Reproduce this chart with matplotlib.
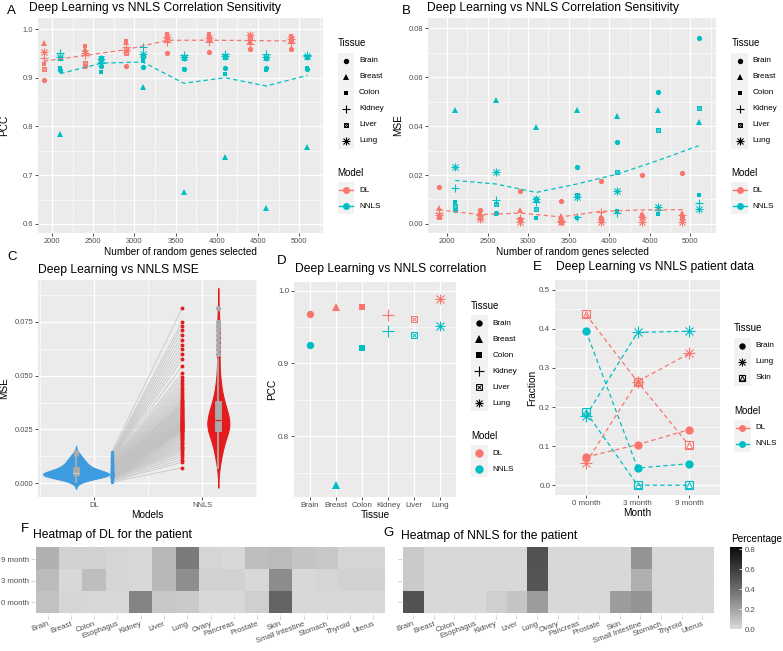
import numpy as np
import matplotlib
matplotlib.use("Agg")
import matplotlib.pyplot as plt
from matplotlib import mlab
from matplotlib.colors import ListedColormap, Normalize
from matplotlib.cm import ScalarMappable
from matplotlib.patches import Rectangle
from matplotlib.collections import LineCollection

plt.rcParams['font.family'] = ['Liberation Sans', 'DejaVu Sans']

# ====================== data ======================
genes = [2000, 2500, 3000, 3500, 4000, 4500, 5000]
tissues = ["Brain", "Breast", "Colon", "Kidney", "Liver", "Lung"]
models = ["DL", "NNLS"]

# Panel A: PCC (rows = tissues, columns = genes)
pcc_dl = [
    [0.895, 0.925, 0.925, 0.951, 0.952, 0.958, 0.960],
    [0.971, 0.958, 0.974, 0.986, 0.986, 0.976, 0.975],
    [0.928, 0.965, 0.976, 0.989, 0.989, 0.986, 0.986],
    [0.940, 0.947, 0.964, 0.974, 0.973, 0.969, 0.971],
    [0.918, 0.930, 0.950, 0.977, 0.980, 0.981, 0.982],
    [0.952, 0.950, 0.957, 0.984, 0.982, 0.988, 0.979],
]
pcc_nnls = [
    [0.915, 0.925, 0.922, 0.918, 0.921, 0.919, 0.918],
    [0.784, 0.935, 0.881, 0.665, 0.737, 0.633, 0.758],
    [0.919, 0.911, 0.935, 0.918, 0.907, 0.916, 0.919],
    [0.950, 0.930, 0.964, 0.947, 0.948, 0.949, 0.947],
    [0.940, 0.940, 0.945, 0.941, 0.943, 0.940, 0.943],
    [0.943, 0.938, 0.948, 0.943, 0.945, 0.942, 0.945],
]
# Panel B: MSE (rows = tissues, columns = genes)
mse_dl = [
    [0.0152, 0.0058, 0.0133, 0.0094, 0.0177, 0.0200, 0.0207],
    [0.0064, 0.0045, 0.0058, 0.0034, 0.0030, 0.0040, 0.0044],
    [0.0023, 0.0040, 0.0022, 0.0015, 0.0025, 0.0035, 0.0030],
    [0.0045, 0.0035, 0.0025, 0.0012, 0.0050, 0.0030, 0.0035],
    [0.0030, 0.0030, 0.0018, 0.0010, 0.0020, 0.0028, 0.0025],
    [0.0035, 0.0022, 0.0010, 0.0008, 0.0008, 0.0010, 0.0010],
]
mse_nnls = [
    [0.0057, 0.0046, 0.0101, 0.0231, 0.0333, 0.0540, 0.0761],
    [0.0465, 0.0506, 0.0397, 0.0465, 0.0442, 0.0465, 0.0418],
    [0.0088, 0.0040, 0.0023, 0.0026, 0.0054, 0.0041, 0.0118],
    [0.0148, 0.0098, 0.0091, 0.0028, 0.0044, 0.0057, 0.0084],
    [0.0075, 0.0080, 0.0061, 0.0118, 0.0214, 0.0386, 0.0476],
    [0.0234, 0.0211, 0.0100, 0.0112, 0.0136, 0.0068, 0.0060],
]

# Panel C: paired MSE per sample
c_dl = [
    0.0005, 0.0009, 0.0012, 0.0016, 0.0018, 0.0021, 0.0023, 0.0024, 0.0026, 0.0027,
    0.0028, 0.0029, 0.0030, 0.0030, 0.0031, 0.0032, 0.0032, 0.0033, 0.0033, 0.0034,
    0.0034, 0.0035, 0.0035, 0.0036, 0.0036, 0.0037, 0.0037, 0.0038, 0.0038, 0.0039,
    0.0039, 0.0040, 0.0040, 0.0040, 0.0041, 0.0041, 0.0042, 0.0042, 0.0043, 0.0043,
    0.0044, 0.0044, 0.0045, 0.0045, 0.0046, 0.0047, 0.0047, 0.0048, 0.0049, 0.0050,
    0.0051, 0.0052, 0.0052, 0.0053, 0.0054, 0.0055, 0.0056, 0.0057, 0.0058, 0.0060,
    0.0061, 0.0062, 0.0064, 0.0065, 0.0066, 0.0068, 0.0069, 0.0071, 0.0072, 0.0074,
    0.0076, 0.0078, 0.0080, 0.0082, 0.0084, 0.0086, 0.0088, 0.0090, 0.0092, 0.0095,
    0.0097, 0.0100, 0.0102, 0.0105, 0.0108, 0.0111, 0.0114, 0.0117, 0.0121, 0.0125,
    0.0130, 0.0136, 0.0143,
]
c_nnls = [
    0.0072, 0.0098, 0.0110, 0.0122, 0.0133, 0.0142, 0.0150, 0.0157, 0.0163, 0.0169,
    0.0175, 0.0181, 0.0187, 0.0193, 0.0199, 0.0205, 0.0211, 0.0216, 0.0221, 0.0226,
    0.0231, 0.0235, 0.0239, 0.0242, 0.0245, 0.0247, 0.0249, 0.0251, 0.0253, 0.0255,
    0.0257, 0.0259, 0.0261, 0.0263, 0.0265, 0.0267, 0.0269, 0.0271, 0.0274, 0.0276,
    0.0278, 0.0281, 0.0283, 0.0286, 0.0289, 0.0292, 0.0295, 0.0298, 0.0301, 0.0304,
    0.0308, 0.0311, 0.0314, 0.0318, 0.0321, 0.0325, 0.0328, 0.0332, 0.0336, 0.0339,
    0.0343, 0.0347, 0.0351, 0.0355, 0.0359, 0.0363, 0.0367, 0.0371, 0.0376, 0.0382,
    0.0389, 0.0396, 0.0404, 0.0413, 0.0422, 0.0432, 0.0443, 0.0455, 0.0467, 0.0480,
    0.0495, 0.0512, 0.0545, 0.0578, 0.0601, 0.0623, 0.0645, 0.0667, 0.0689, 0.0711,
    0.0733, 0.0752, 0.0815,
]

# Panel D: PCC per tissue
d_dl = [0.968, 0.978, 0.978, 0.967, 0.961, 0.988]
d_nnls = [0.926, 0.733, 0.921, 0.945, 0.939, 0.952]

# Panel E: patient fractions
months = ["0 month", "3 month", "9 month"]
e_tissues = ["Brain", "Lung", "Skin"]
e_dl = [[0.072, 0.104, 0.142], [0.057, 0.265, 0.337], [0.437, 0.265, 0.102]]
e_nnls = [[0.395, 0.044, 0.055], [0.177, 0.391, 0.394], [0.188, 0.000, 0.000]]

# Panels F/G: heatmaps
hm_tissues = ["Brain", "Breast", "Colon", "Esophagus", "Kidney", "Liver", "Lung", "Ovary",
              "Pancreas", "Prostate", "Skin", "Small Intestine", "Stomach", "Thyroid", "Uterus"]
hm_rows = ["0 month", "3 month", "9 month"]
f_0m = [0.09, 0.02, 0.015, 0.01, 0.31, 0.07, 0.06, 0.01, 0.01, 0.04, 0.43, 0.015, 0.01, 0.01, 0.01]
f_3m = [0.11, 0.01, 0.10, 0.02, 0.01, 0.12, 0.27, 0.03, 0.03, 0.01, 0.28, 0.01, 0.02, 0.03, 0.035]
f_9m = [0.15, 0.03, 0.03, 0.02, 0.01, 0.12, 0.34, 0.02, 0.01, 0.10, 0.11, 0.08, 0.07, 0.02, 0.02]
g_0m = [0.50, 0.01, 0.01, 0.01, 0.04, 0.08, 0.22, 0.01, 0.01, 0.01, 0.22, 0.25, 0.01, 0.01, 0.01]
g_3m = [0.06, 0.01, 0.01, 0.01, 0.01, 0.01, 0.49, 0.01, 0.01, 0.01, 0.01, 0.15, 0.01, 0.01, 0.01]
g_9m = [0.06, 0.01, 0.01, 0.01, 0.01, 0.01, 0.50, 0.01, 0.01, 0.01, 0.01, 0.25, 0.01, 0.01, 0.01]

# ====================== style ======================
DL_COL = '#F8766D'
NN_COL = '#00BFC4'
BLUE = '#3D9BE0'
RED = '#E41A1C'
W, H = 783, 651
fig = plt.figure(figsize=(W / 100, H / 100), dpi=100)


def ax_px(l, t, r, b, **kw):
    return fig.add_axes([l / W, 1 - b / H, (r - l) / W, (b - t) / H], **kw)


def gray_style(ax, xmaj, ymaj, xmin=None, ymin=None, fs=5.4):
    ax.set_facecolor('#EBEBEB')
    for s in ax.spines.values():
        s.set_visible(False)
    ax.set_xticks(xmaj)
    ax.set_yticks(ymaj)
    if xmin is not None:
        ax.set_xticks(xmin, minor=True)
    if ymin is not None:
        ax.set_yticks(ymin, minor=True)
    ax.grid(True, which='major', color='white', lw=0.9)
    ax.grid(True, which='minor', color='white', lw=0.45)
    ax.set_axisbelow(True)
    ax.tick_params(which='major', length=2.2, width=0.6, color='#333333',
                   labelsize=fs, labelcolor='#4D4D4D', pad=1.2)
    ax.tick_params(which='minor', length=0)


def shape(ax, x, y, t, color, s, z=3, clip=True):
    kw = dict(ls='none', zorder=z, clip_on=clip)
    if t == 'Brain':
        ax.plot(x, y, 'o', ms=s, mfc=color, mec=color, mew=0, **kw)
    elif t == 'Breast':
        ax.plot(x, y, '^', ms=s * 1.15, mfc=color, mec=color, mew=0, **kw)
    elif t == 'Colon':
        ax.plot(x, y, 's', ms=s * 0.9, mfc=color, mec=color, mew=0, **kw)
    elif t == 'Kidney':
        ax.plot(x, y, '+', ms=s * 1.5, mec=color, mew=0.8, **kw)
    elif t == 'Liver':
        ax.plot(x, y, 's', ms=s * 0.9, mfc='none', mec=color, mew=0.7, **kw)
        ax.plot(x, y, 'x', ms=s * 0.65, mec=color, mew=0.7, **kw)
    elif t == 'Lung':
        ax.plot(x, y, '+', ms=s * 1.4, mec=color, mew=0.8, **kw)
        ax.plot(x, y, 'x', ms=s * 1.0, mec=color, mew=0.8, **kw)
    elif t == 'Skin':
        ax.plot(x, y, 's', ms=s * 0.95, mfc='none', mec=color, mew=0.8, **kw)
        ax.plot(x, y, '^', ms=s * 0.75, mfc='none', mec=color, mew=0.7, **kw)


def fmt1(v):
    return [f"{x:.1f}" for x in v]


# ---------------- Panel A ----------------
axA = ax_px(38, 18, 323, 233)
gray_style(axA, genes, [0.6, 0.7, 0.8, 0.9, 1.0],
           [g + 250 for g in genes], [0.65, 0.75, 0.85, 0.95])
axA.set_yticklabels(fmt1([0.6, 0.7, 0.8, 0.9, 1.0]))
axA.set_xlim(1830, 5290)
axA.set_ylim(0.5815, 1.0226)
for vals, col, off in [(pcc_dl, DL_COL, -100), (pcc_nnls, NN_COL, 100)]:
    xs = np.array(genes) + off
    for ti, t in enumerate(tissues):
        shape(axA, xs, vals[ti], t, col, 3.8)
    axA.plot(xs, np.mean(vals, axis=0), color=col, lw=0.9, ls=(0, (3.5, 2.5)), zorder=4)

# ---------------- Panel B ----------------
axB = ax_px(428, 18, 716, 233)
gray_style(axB, genes, [0.0, 0.02, 0.04, 0.06, 0.08],
           [g + 250 for g in genes] + [genes[0] - 250], [0.01, 0.03, 0.05, 0.07])
axB.set_yticklabels([f"{v:.2f}" for v in [0.0, 0.02, 0.04, 0.06, 0.08]])
axB.set_xlim(1765, 5315)
axB.set_ylim(-0.0037, 0.0842)
for vals, col, off in [(mse_dl, DL_COL, -100), (mse_nnls, NN_COL, 100)]:
    xs = np.array(genes) + off
    for ti, t in enumerate(tissues):
        shape(axB, xs, vals[ti], t, col, 3.8)
    axB.plot(xs, np.mean(vals, axis=0), color=col, lw=0.9, ls=(0, (3.5, 2.5)), zorder=4)

# ---------------- Panel C ----------------
axC = ax_px(38, 280, 257, 497)
gray_style(axC, [1, 2], [0.0, 0.025, 0.05, 0.075], [0.5, 1.5, 2.5],
           [0.0125, 0.0375, 0.0625, 0.0875])
axC.set_xticklabels(models)
axC.set_yticklabels([f"{v:.3f}" for v in [0.0, 0.025, 0.05, 0.075]])
axC.set_xlim(0.483, 2.505)
axC.set_ylim(-0.0064, 0.0945)


def violin(ax, data, pos, color, bwf, maxhalf, cut=2.0):
    data = np.asarray(data)
    kde = mlab.GaussianKDE(data, bwf)
    bw = float(np.sqrt(np.atleast_2d(kde.covariance)[0, 0]))
    grid = np.linspace(data.min() - cut * bw, data.max() + cut * bw, 400)
    dens = kde.evaluate(grid)
    half = dens / dens.max() * maxhalf
    ax.fill_betweenx(grid, pos - half, pos + half, facecolor=color, edgecolor=color,
                     lw=0.7, zorder=2)


def box(ax, data, pos, mcol):
    ax.boxplot([data], positions=[pos], widths=0.055, patch_artist=True, whis=1.5,
               boxprops=dict(facecolor='#ABABAB', edgecolor='#ABABAB', lw=0.6),
               medianprops=dict(color=mcol, lw=0.9),
               whiskerprops=dict(color='#ABABAB', lw=1.3),
               capprops=dict(lw=0),
               flierprops=dict(marker='o', ms=2.8, mfc='#ABABAB', mec='#ABABAB'),
               manage_ticks=False, zorder=3)


violin(axC, c_dl, 0.834, BLUE, 0.5, 0.305)
violin(axC, c_nnls, 2.148, RED, 0.3, 0.102)
box(axC, c_dl, 0.834, '#C9C9C9')
box(axC, c_nnls, 2.148, RED)
segs = [[(1.163, a), (1.815, b)] for a, b in zip(c_dl, c_nnls)]
axC.add_collection(LineCollection(segs, colors='#C2C2C2', lw=0.5, alpha=1.0, zorder=2))
axC.plot(np.full(len(c_dl), 1.163), c_dl, 'o', ms=2.4, color=BLUE, mew=0, zorder=3)
axC.plot(np.full(len(c_nnls), 1.815), c_nnls, 'o', ms=2.8, color=RED, mew=0, zorder=3)

# ---------------- Panel D ----------------
axD = ax_px(294, 282, 456, 497)
gray_style(axD, range(1, 7), [0.8, 0.9, 1.0], None, [0.75, 0.85, 0.95], fs=5.8)
axD.set_xticklabels(tissues)
axD.set_yticklabels(fmt1([0.8, 0.9, 1.0]))
axD.set_xlim(0.4, 6.6)
axD.set_ylim(0.7165, 1.012)
for i, t in enumerate(tissues):
    shape(axD, i + 1, d_dl[i], t, DL_COL, 5.3)
    shape(axD, i + 1, d_nnls[i], t, NN_COL, 5.3)

# ---------------- Panel E ----------------
axE = ax_px(555, 280, 720, 495)
gray_style(axE, [1, 2, 3], [0, 0.1, 0.2, 0.3, 0.4, 0.5], None,
           [0.05, 0.15, 0.25, 0.35, 0.45], fs=5.8)
axE.set_xticklabels(months)
axE.set_yticklabels(fmt1([0, 0.1, 0.2, 0.3, 0.4, 0.5]))
axE.set_xlim(0.4, 3.6)
axE.set_ylim(-0.025, 0.525)
xm = np.arange(1, len(months) + 1)
for vals, col in [(e_dl, DL_COL), (e_nnls, NN_COL)]:
    for ti, t in enumerate(e_tissues):
        axE.plot(xm, vals[ti], color=col, lw=0.9, ls=(0, (3.5, 2.5)), zorder=2)
for vals, col in [(e_dl, DL_COL), (e_nnls, NN_COL)]:
    for ti, t in enumerate(e_tissues):
        shape(axE, xm, vals[ti], t, col, 6.0)

# ---------------- Panels F / G ----------------
def lstar_gray(L):
    fy = (L + 16) / 116
    Y = np.where(L > 8, fy ** 3, L / 903.3)
    return np.where(Y > 0.0031308, 1.055 * np.power(Y, 1 / 2.4) - 0.055, 12.92 * Y)


gs = lstar_gray(np.linspace(87.5, 2.0, 256))
cmap = ListedColormap(np.column_stack([gs, gs, gs]))
norm = Normalize(0, 0.82)


def heat(ax, rows, show_y):
    ax.set_facecolor('white')
    for s in ax.spines.values():
        s.set_visible(False)
    ax.imshow(np.array(rows), cmap=cmap, norm=norm, aspect='auto', origin='lower',
              extent=(0.5, len(hm_tissues) + 0.5, 0.5, len(hm_rows) + 0.5),
              interpolation='nearest', zorder=2)
    ax.set_xlim(0.4, len(hm_tissues) + 0.6)
    ax.set_ylim(0.4, len(hm_rows) + 0.6)
    ax.set_xticks(range(1, len(hm_tissues) + 1))
    ax.set_yticks(range(1, len(hm_rows) + 1))
    ax.grid(True, color='#EBEBEB', lw=0.6, zorder=0)
    ax.set_axisbelow(True)
    ax.set_xticklabels(hm_tissues, rotation=20, ha='right', rotation_mode='anchor')
    if show_y:
        ax.set_yticklabels(hm_rows)
    else:
        ax.set_yticklabels([])
    ax.tick_params(length=2, width=0.5, color='#BBBBBB', labelsize=5.6,
                   labelcolor='#4D4D4D', pad=1.5)


axF = ax_px(33.7, 546.1, 387.3, 615.5)
heat(axF, [f_0m, f_3m, f_9m], True)
axG = ax_px(400.6, 546.1, 714.8, 615.5)
heat(axG, [g_0m, g_3m, g_9m], False)

cax = ax_px(730, 547, 742, 629)
cb = fig.colorbar(ScalarMappable(norm=norm, cmap=cmap), cax=cax, ticks=[0, 0.2, 0.4, 0.6, 0.8])
cb.outline.set_visible(False)
cb.set_ticklabels(fmt1([0, 0.2, 0.4, 0.6, 0.8]))
cax.tick_params(length=2.5, width=0.6, color='white', direction='in', labelsize=5.6,
                labelcolor='#4D4D4D', pad=2)

# ---------------- overlay: text & legends ----------------
ov = fig.add_axes([0, 0, 1, 1], zorder=10)
ov.set_xlim(0, W)
ov.set_ylim(H, 0)
ov.axis('off')
ov.patch.set_alpha(0)

TFS = 8.7
for x, y, s in [(29, 8, "Deep Learning vs NNLS Correlation Sensitivity"),
                (426.7, 8, "Deep Learning vs NNLS Correlation Sensitivity"),
                (38.3, 270, "Deep Learning vs NNLS MSE"),
                (295, 269.3, "Deep Learning vs NNLS correlation"),
                (555.7, 266.7, "Deep Learning vs NNLS patient data"),
                (33.3, 535, "Heatmap of DL for the patient"),
                (400.7, 535.6, "Heatmap of NNLS for the patient")]:
    ov.text(x, y, s, fontsize=TFS, ha='left', va='center')

for s, x, y in [("A", 11, 11), ("B", 406, 11), ("C", 12, 257), ("D", 281.5, 260.7),
                ("E", 537.5, 266.7), ("F", 25.3, 529), ("G", 389, 533.3)]:
    ov.text(x, y, s, fontsize=9.5, ha='center', va='center')

AFS = 7.2
for x, y, s in [(180.5, 252, "Number of random genes selected"),
                (572, 252, "Number of random genes selected"),
                (147.5, 515, "Models"), (375, 515, "Tissue"), (637.5, 512.7, "Month")]:
    ov.text(x, y, s, fontsize=AFS, ha='center', va='center')
for x, y, s in [(4.5, 125.5, "PCC"), (398.5, 125.5, "MSE"), (4.5, 388.5, "MSE"),
                (272, 389.5, "PCC"), (531.7, 387.5, "Fraction")]:
    ov.text(x, y, s, fontsize=AFS, ha='center', va='center', rotation=90)

LT, LX = 7.0, 5.9
KW, KH = 16.7, 16


def legend(x0, ty, names, iy, size, mty, my, model_kind):
    ov.text(x0, ty, "Tissue", fontsize=LT, ha='left', va='center')
    for i, t in enumerate(names):
        yc = iy + i * KH
        ov.add_patch(Rectangle((x0, yc - KH / 2), KW, KH, facecolor='#F2F2F2',
                               edgecolor='none', zorder=1))
        shape(ov, x0 + KW / 2, yc, t, 'black', size, z=3, clip=False)
        ov.text(x0 + KW + 4.5, yc, t, fontsize=LX, ha='left', va='center')
    ov.text(x0, mty, "Model", fontsize=LT, ha='left', va='center')
    for i, (m, col) in enumerate(zip(models, [DL_COL, NN_COL])):
        yc = my + i * KH
        ov.add_patch(Rectangle((x0, yc - KH / 2), KW, KH, facecolor='#F2F2F2',
                               edgecolor='none', zorder=1))
        if model_kind == 'line':
            ov.plot([x0 + 1.5, x0 + KW - 1.5], [yc, yc], color=col, lw=1.0, zorder=2,
                    clip_on=False)
            ov.plot(x0 + KW / 2, yc, 'o', ms=5, color=col, mew=0, zorder=3, clip_on=False)
        else:
            ov.plot(x0 + KW / 2, yc, 'o', ms=6, color=col, mew=0, zorder=3, clip_on=False)
        ov.text(x0 + KW + 4.5, yc, m, fontsize=LX, ha='left', va='center')


legend(337.7, 43, tissues, 61, 3.9, 173, 190, 'line')
legend(731.3, 43, tissues, 61, 3.9, 173, 190, 'line')
legend(471, 306, tissues, 323.3, 4.6, 435.7, 453.3, 'point')
legend(734, 328.3, e_tissues, 345.7, 4.6, 410.7, 427.7, 'line')
ov.text(730.7, 539, "Percentage", fontsize=7.2, ha='left', va='center')

fig.savefig("out.png", dpi=100)
